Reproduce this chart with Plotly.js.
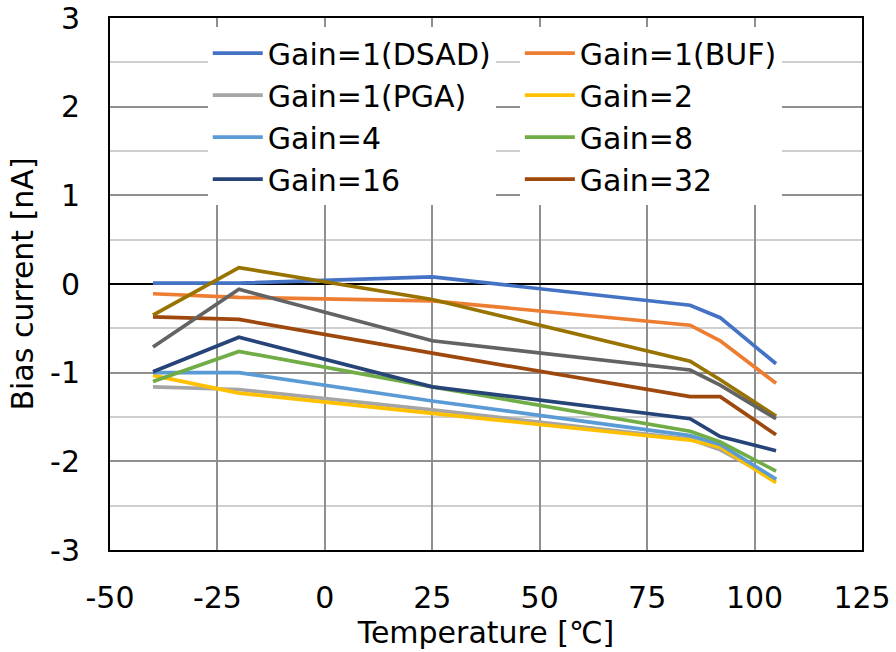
<!DOCTYPE html>
<html>
<head>
<meta charset="utf-8">
<script src="https://cdn.plot.ly/plotly-3.0.1.min.js"></script>
<style>html,body{margin:0;padding:0;background:#fff;}#chart{width:896px;height:652px;}</style>
</head>
<body>
<div id="chart"></div>
<script>
const temperature = [-40, -20, 25, 85, 92, 105];

const seriesNames = ["Gain=1(DSAD)", "Gain=1(BUF)", "Gain=1(PGA)", "Gain=2", "Gain=4", "Gain=8", "Gain=16", "Gain=32", "Gain=64", "Gain=128"];

const gain1DSAD = [0.01, 0.01, 0.08, -0.24, -0.38, -0.90];
const gain1BUF  = [-0.11, -0.15, -0.19, -0.465, -0.64, -1.12];
const gain1PGA  = [-1.16, -1.19, -1.42, -1.75, -1.87, -2.21];
const gain2     = [-1.03, -1.23, -1.46, -1.76, -1.84, -2.24];
const gain4     = [-1.00, -1.00, -1.32, -1.71, -1.81, -2.20];
const gain8     = [-1.10, -0.76, -1.16, -1.66, -1.78, -2.11];
const gain16    = [-0.99, -0.60, -1.16, -1.52, -1.72, -1.88];
const gain32    = [-0.37, -0.40, -0.78, -1.27, -1.27, -1.70];
const gain64    = [-0.35, 0.185, -0.175, -0.87, -1.08, -1.49];
const gain128   = [-0.71, -0.06, -0.64, -0.97, -1.14, -1.52];

const xTickVals = [-50, -25, 0, 25, 50, 75, 100, 125];
const yTickVals = [-3, -2, -1, 0, 1, 2, 3];

const seriesValues = [gain1DSAD, gain1BUF, gain1PGA, gain2, gain4, gain8, gain16, gain32, gain64, gain128];
const colors = ["#4472C4", "#ED7D31", "#A5A5A5", "#FFC000", "#5B9BD5", "#70AD47", "#264478", "#9E480E", "#997300", "#636363"];
const legendOf = ["legend", "legend2", "legend", "legend2", "legend", "legend2", "legend", "legend2", "legend", "legend"];

const traces = [];
for (let i = 0; i < seriesValues.length; i++) {
  traces.push({
    type: "scatter",
    mode: "lines",
    x: temperature,
    y: seriesValues[i],
    name: seriesNames[i],
    line: {color: colors[i], width: 3.7},
    legend: legendOf[i],
    showlegend: i < 8
  });
}

const font = {family: "DejaVu Sans, Verdana, sans-serif", size: 30, color: "#000"};

const layout = {
  width: 896,
  height: 652,
  margin: {l: 110, r: 34, t: 18, b: 102},
  paper_bgcolor: "#fff",
  plot_bgcolor: "#fff",
  font: font,
  showlegend: true,
  xaxis: {
    range: [-50, 125],
    tickvals: xTickVals,
    ticktext: xTickVals.map(String),
    showgrid: true,
    gridcolor: "#8f8f8f",
    gridwidth: 2,
    zeroline: false,
    showline: true,
    linecolor: "#000",
    linewidth: 2,
    mirror: true,
    ticks: "",
    ticklabelstandoff: 20,
    tickfont: font,
    title: {text: "Temperature [℃]", font: font, standoff: 3}
  },
  yaxis: {
    range: [-3, 3],
    tickvals: yTickVals,
    ticktext: yTickVals.map(String),
    showgrid: true,
    gridcolor: "#8f8f8f",
    gridwidth: 2,
    minor: {dtick: 0.5, showgrid: true, gridcolor: "#cfcfcf", gridwidth: 2, ticks: ""},
    zeroline: true,
    zerolinecolor: "#000",
    zerolinewidth: 2,
    showline: true,
    linecolor: "#000",
    linewidth: 2,
    mirror: true,
    ticks: "",
    ticklabelstandoff: 22,
    tickfont: font,
    title: {text: "Bias current [nA]", font: font, standoff: 8}
  },
  legend: {
    x: 0.130, y: 0.983, xanchor: "left", yanchor: "top",
    bgcolor: "#fff", borderwidth: 0,
    font: font, itemwidth: 50, tracegroupgap: 0
  },
  legend2: {
    x: 0.545, y: 0.983, xanchor: "left", yanchor: "top",
    bgcolor: "#fff", borderwidth: 0,
    font: font, itemwidth: 50, tracegroupgap: 0
  }
};

Plotly.newPlot("chart", traces, layout, {displayModeBar: false, staticPlot: true});
</script>
</body>
</html>
